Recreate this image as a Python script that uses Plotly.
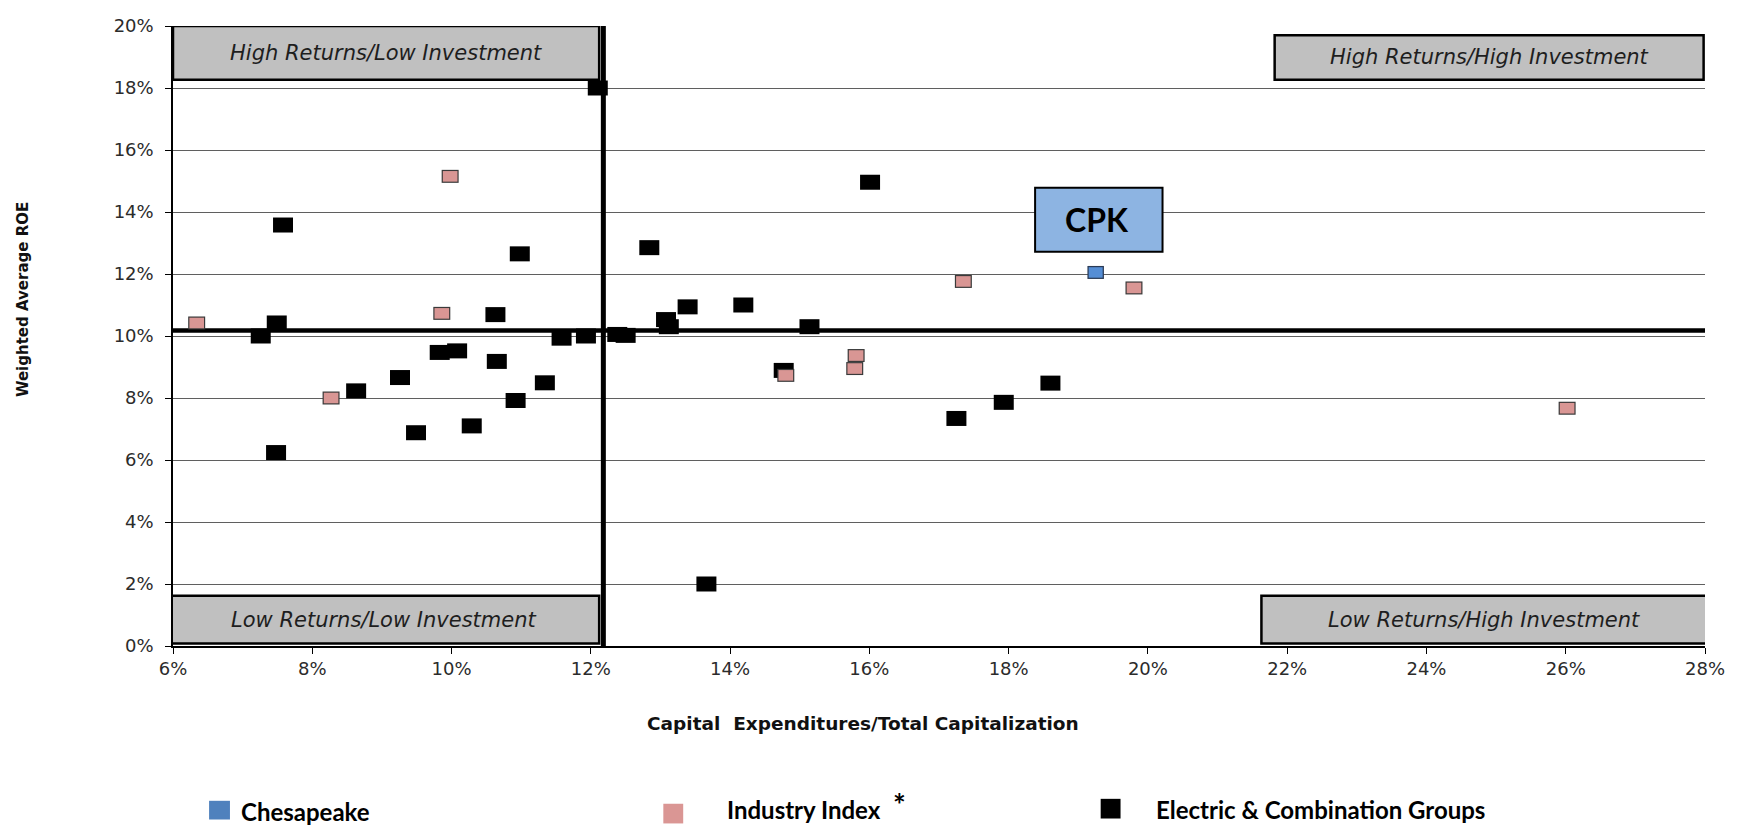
import plotly.graph_objects as go

# ---------------- data ----------------
x_range = [6, 28]
y_range = [0, 20]
x_tick_vals = [6, 8, 10, 12, 14, 16, 18, 20, 22, 24, 26, 28]
x_tick_text = ["6%", "8%", "10%", "12%", "14%", "16%", "18%", "20%", "22%", "24%", "26%", "28%"]
y_tick_vals = [0, 2, 4, 6, 8, 10, 12, 14, 16, 18, 20]
y_tick_text = ["0%", "2%", "4%", "6%", "8%", "10%", "12%", "14%", "16%", "18%", "20%"]

avg_capex = 12.18   # vertical divider (Capex / Total Cap, %)
avg_roe = 10.18     # horizontal divider (ROE, %)

chesapeake_x = [19.25]
chesapeake_y = [12.05]

industry_x = [6.34, 9.98, 9.86, 8.27, 14.80, 15.81, 15.79, 17.35, 19.80, 26.02]
industry_y = [10.42, 15.15, 10.73, 8.00, 8.73, 9.37, 8.95, 11.76, 11.55, 7.67]

electric_x = [12.10, 16.01, 7.58, 10.98, 12.84, 7.49, 7.26, 10.63, 13.39, 14.19,
              13.08, 13.12, 15.14, 11.58, 11.93, 12.38, 12.50, 9.83, 10.08, 10.65,
              11.34, 10.92, 9.26, 8.63, 9.49, 10.29, 7.48, 13.66, 14.77, 17.25,
              17.93, 18.60]
electric_y = [18.00, 14.96, 13.58, 12.65, 12.85, 10.42, 10.00, 10.69, 10.94, 11.00,
              10.53, 10.30, 10.30, 9.93, 10.00, 10.05, 10.02, 9.47, 9.52, 9.18,
              8.49, 7.92, 8.66, 8.23, 6.88, 7.10, 6.24, 2.00, 8.89, 7.34,
              7.86, 8.48]

quadrant_labels = ["High Returns/Low Investment", "High Returns/High Investment",
                   "Low Returns/Low Investment", "Low Returns/High Investment"]
legend_labels = ["Chesapeake", "Industry Index", "Electric & Combination Groups"]

# ---------------- layout geometry ----------------
# The page body keeps the browser's default 8px margin, so the figure is placed
# 8px in from the window corner; every position below is in window pixels.
OFF = 8
W = 1741 - 2 * OFF
H = 835 - 2 * OFF
PLOT_L, PLOT_R, PLOT_T, PLOT_B = 172.7, 1714.0, 15.7, 645.7   # window pixels
ML = PLOT_L - OFF
MR = W - (PLOT_R - OFF)
MT = PLOT_T - OFF
MB = H - (PLOT_B - OFF)
PW, PH = PLOT_R - PLOT_L, PLOT_B - PLOT_T


def px(xp):
    return (xp - PLOT_L) / PW


def py(yp):
    return (PLOT_B - yp) / PH


LINE_EW = 1.4   # plotly's line-ew marker is 1.4*size long

fig = go.Figure()

# divider lines
fig.add_trace(go.Scatter(x=[avg_capex, avg_capex], y=y_range, mode="lines",
                         line=dict(color="black", width=5), hoverinfo="skip"))
fig.add_trace(go.Scatter(x=x_range, y=[avg_roe, avg_roe], mode="lines",
                         line=dict(color="black", width=4.5), hoverinfo="skip"))

# Electric & Combination Groups (black rectangles)
fig.add_trace(go.Scatter(x=electric_x, y=electric_y, mode="markers",
                         name=legend_labels[2],
                         marker=dict(symbol="line-ew", size=20 / LINE_EW, color="black",
                                     line=dict(width=15, color="black"))))
# Industry Index (pink with dark border)
fig.add_trace(go.Scatter(x=industry_x, y=industry_y, mode="markers",
                         marker=dict(symbol="line-ew", size=17 / LINE_EW, color="#3a3a3a",
                                     line=dict(width=13, color="#3a3a3a")),
                         hoverinfo="skip"))
fig.add_trace(go.Scatter(x=industry_x, y=industry_y, mode="markers",
                         name=legend_labels[1],
                         marker=dict(symbol="line-ew", size=14.6 / LINE_EW, color="#D99694",
                                     line=dict(width=10.6, color="#D99694"))))
# Chesapeake (blue with dark border)
fig.add_trace(go.Scatter(x=chesapeake_x, y=chesapeake_y, mode="markers",
                         marker=dict(symbol="line-ew", size=16.5 / LINE_EW, color="#2a3a55",
                                     line=dict(width=13, color="#2a3a55")),
                         hoverinfo="skip"))
fig.add_trace(go.Scatter(x=chesapeake_x, y=chesapeake_y, mode="markers",
                         name=legend_labels[0],
                         marker=dict(symbol="line-ew", size=14 / LINE_EW, color="#558ED5",
                                     line=dict(width=10.5, color="#558ED5"))))

shapes = []
annotations = []

# quadrant boxes (x0, x1, y0, y1) in axis units
quad_boxes = [
    (6.0, 12.12, 18.27, 20.0),
    (21.82, 27.98, 18.27, 19.70),
    (5.93, 12.12, 0.08, 1.62),
    (21.63, 28.03, 0.08, 1.62),
]
for (x0, x1, y0, y1), label in zip(quad_boxes, quadrant_labels):
    shapes.append(dict(type="rect", xref="x", yref="y", x0=x0, x1=x1, y0=y0, y1=y1,
                       fillcolor="#C0C0C0", line=dict(color="black", width=2.5),
                       layer="above"))
    annotations.append(dict(x=(x0 + x1) / 2, y=(y0 + y1) / 2, xref="x", yref="y",
                            text="<i>" + label + "</i>", showarrow=False,
                            font=dict(family="DejaVu Sans", size=21, color="#1e1e1e"),
                            xanchor="center", yanchor="middle"))

# CPK call-out
shapes.append(dict(type="rect", xref="x", yref="y", x0=18.38, x1=20.21, y0=12.72, y1=14.78,
                   fillcolor="#8DB4E2", line=dict(color="black", width=2), layer="above"))
annotations.append(dict(x=19.27, y=13.75, xref="x", yref="y", text="<b>CPK</b>",
                        showarrow=False, font=dict(family="Lato", size=32, color="black"),
                        xanchor="center", yanchor="middle"))

# axis titles
annotations.append(dict(x=px(22), y=py(294), xref="paper", yref="paper",
                        text="<b>Weighted Average ROE</b>", textangle=-90, showarrow=False,
                        font=dict(family="DejaVu Sans", size=15, color="#111"),
                        xanchor="center", yanchor="middle"))
annotations.append(dict(x=px(867), y=py(724), xref="paper", yref="paper",
                        text="<b>Capital\u00a0 Expenditures/Total Capitalization</b>",
                        showarrow=False,
                        font=dict(family="DejaVu Sans", size=18.5, color="#111"),
                        xanchor="center", yanchor="middle"))

# custom legend (kept clear of the figure's bottom edge at window y=827)
legend_items = [
    # (square x0, x1, y0, y1 in window px, colour, text x, text y)
    (209, 230, 803, 822, "#4F81BD", 239, 814),
    (666, 686, 806, 826, "#DA9694", 728, 812),
    (1106, 1126, 801, 821, "#000000", 1160, 812),
]
for (sx0, sx1, sy0, sy1, col, tx, ty), label in zip(legend_items, legend_labels):
    shapes.append(dict(type="rect", xref="paper", yref="paper",
                       x0=px(sx0), x1=px(sx1), y0=py(sy1), y1=py(sy0),
                       fillcolor=col, line=dict(width=0), layer="above"))
    annotations.append(dict(x=px(tx), y=py(ty), xref="paper", yref="paper",
                            text="<b>" + label + "</b>", showarrow=False,
                            font=dict(family="Lato", size=24, color="black"),
                            xanchor="left", yanchor="middle"))
annotations.append(dict(x=px(904), y=py(806), xref="paper", yref="paper",
                        text="<b>*</b>", showarrow=False,
                        font=dict(family="Lato", size=30, color="black"),
                        xanchor="center", yanchor="middle"))

fig.update_layout(
    width=W, height=H,
    margin=dict(l=ML, r=MR, t=MT, b=MB, pad=0),
    paper_bgcolor="white", plot_bgcolor="white",
    showlegend=False,
    shapes=shapes, annotations=annotations,
    font=dict(family="DejaVu Sans"),
)
fig.update_xaxes(range=x_range, tickvals=x_tick_vals, ticktext=x_tick_text,
                 showgrid=False, zeroline=False, showline=True, linecolor="black",
                 linewidth=1.5, ticks="outside", ticklen=6, tickwidth=1.2, tickcolor="black",
                 tickfont=dict(family="DejaVu Sans", size=18, color="#2b2b2b"),
                 ticklabelstandoff=0, ticklabeloverflow="allow", fixedrange=True)
fig.update_yaxes(range=y_range, tickvals=y_tick_vals, ticktext=y_tick_text,
                 showgrid=True, gridcolor="#5f5f5f", gridwidth=1.4,
                 zeroline=False, showline=True, linecolor="black",
                 linewidth=1.5, ticks="outside", ticklen=6, tickwidth=1.2, tickcolor="black",
                 tickfont=dict(family="DejaVu Sans", size=18, color="#2b2b2b"),
                 ticklabelstandoff=8, ticklabeloverflow="allow", fixedrange=True)

fig.write_html("out.html", config={"displayModeBar": False})
